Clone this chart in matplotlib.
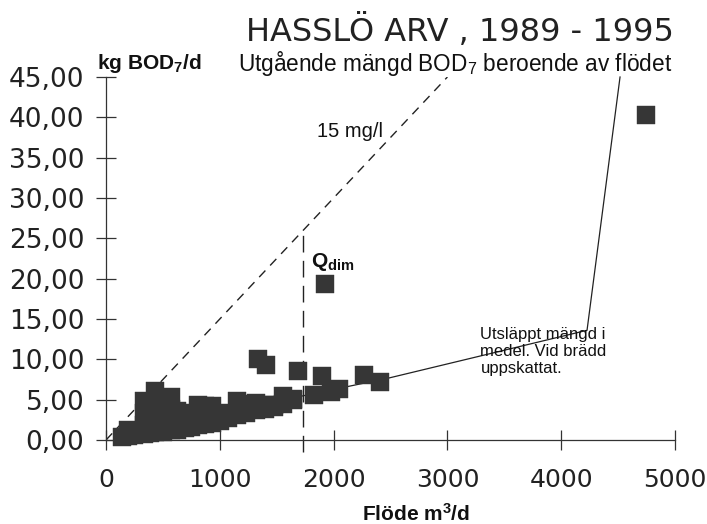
import matplotlib
matplotlib.use('Agg')
from matplotlib import pyplot as plt

plt.rcParams['mathtext.default'] = 'regular'

# the dense cluster below 1700 m3/d is estimated from its outline
flow = [140, 190, 190, 250, 250, 330, 330, 330, 330, 387, 387, 387, 387,
        430, 430, 430, 430, 430, 500, 500, 500, 500, 575, 575, 575, 575,
        624, 624, 624, 690, 690, 690, 750, 750, 810, 810, 810,
        870, 870, 870, 930, 930, 930, 1000, 1000, 1075, 1075, 1150, 1150,
        1230, 1230, 1320, 1320, 1400, 1400, 1475, 1475, 1555, 1555,
        1640, 1640,
        1340, 1406, 1683, 1894, 1832, 1975, 2050, 2263, 2412, 1924, 4745]
bod = [0.4, 1.2, 0.5, 1.1, 0.6, 4.8, 3.3, 1.9, 0.75, 4.5, 3.0, 1.6, 0.87,
       6.1, 4.6, 3.1, 1.7, 0.95, 5.2, 3.7, 2.3, 1.05, 5.3, 3.8, 2.4, 1.2,
       3.6, 2.2, 1.3, 3.3, 2.0, 1.45, 3.2, 1.6, 4.3, 3.0, 1.8,
       4.2, 2.9, 1.95, 4.2, 3.1, 2.1, 3.3, 2.3, 3.2, 2.7, 4.8, 3.1,
       4.5, 3.4, 4.6, 3.7, 4.4, 3.9, 4.3, 4.1, 5.4, 4.5,
       5.1, 4.9,
       10.0, 9.35, 8.5, 7.9, 5.6, 5.9, 6.3, 8.1, 7.25, 19.3, 40.3]

# mean discharge line (solid) and 15 mg/l line (dashed)
mean_flow = [100, 1000, 1705, 2490, 4227, 4517]
mean_bod = [0.4, 2.9, 5.4, 7.7, 13.6, 45.0]
conc_flow = [0, 3000]
conc_bod = [0, 45]
q_dim = 1731

yticks = [0, 5, 10, 15, 20, 25, 30, 35, 40, 45]
xticks = [0, 1000, 2000, 3000, 4000, 5000]

fig = plt.figure(figsize=(7.07, 5.24), dpi=100)
ax = fig.add_axes([106/707, 1-440/524, 569/707, 363/524])

ax.plot(conc_flow, conc_bod, color='#222222', lw=1.0, dashes=(6.5, 5))
ax.plot([q_dim, q_dim], [-1.5, 25.8], color='#222222', lw=1.0,
        dashes=(12, 6), clip_on=False)
ax.plot(mean_flow, mean_bod, color='#222222', lw=0.9, clip_on=False)
ax.plot(flow, bod, 's', ms=12.8, color='#363636', mec='#363636', mew=0.3,
        linestyle='none', clip_on=False, zorder=3)

ax.set_xlim(0, 5000)
ax.set_ylim(0, 45)
ax.set_xticks(xticks)
ax.set_yticks(yticks)
ax.set_yticklabels([('%.2f' % v).replace('.', ',') for v in yticks])
for s in ['top', 'right']:
    ax.spines[s].set_visible(False)
for s in ['left', 'bottom']:
    ax.spines[s].set_color('#333333')
    ax.spines[s].set_linewidth(0.9)
ax.tick_params(axis='both', direction='inout', length=15, width=0.9,
               color='#333333')
ax.tick_params(axis='x', pad=13, labelsize=18)
ax.tick_params(axis='y', pad=8, labelsize=19)
for lab in ax.get_xticklabels() + ax.get_yticklabels():
    lab.set_family('DejaVu Sans')
    lab.set_color('#222222')

fig.text(674/707, 1-41/524, 'HASSLÖ ARV , 1989 - 1995', ha='right',
         va='baseline', fontsize=23, family='DejaVu Sans', color='#222222')
fig.text(238/707, 1-71/524, 'Utgående mängd BOD$_7$ beroende av flödet',
         ha='left', va='baseline', fontsize=16.3, family='Liberation Sans',
         color='#111111')
fig.text(97/707, 1-69/524, 'kg BOD$_7$/d', ha='left', va='baseline',
         fontsize=15, fontweight='bold', family='Liberation Sans',
         color='#111111')
ax.text(1850, 38.3, '15 mg/l', ha='left', va='center', fontsize=14.5,
        family='Liberation Sans', color='#111111')
ax.text(1800, 21.5, 'Q$_{dim}$', ha='left', va='baseline', fontsize=15,
        fontweight='bold', family='Liberation Sans', color='#111111')
ax.text(3290, 14.0, 'Utsläppt mängd i\nmedel. Vid brädd\nuppskattat.',
        ha='left', va='top', fontsize=12, family='Liberation Sans',
        linespacing=1.15, color='#111111')
fig.text(362/707, 1-521/524, 'Flöde m$^3$/d', ha='left', va='baseline',
         fontsize=15, fontweight='bold', family='Liberation Sans',
         color='#111111')

plt.savefig('out.png', dpi=100)
